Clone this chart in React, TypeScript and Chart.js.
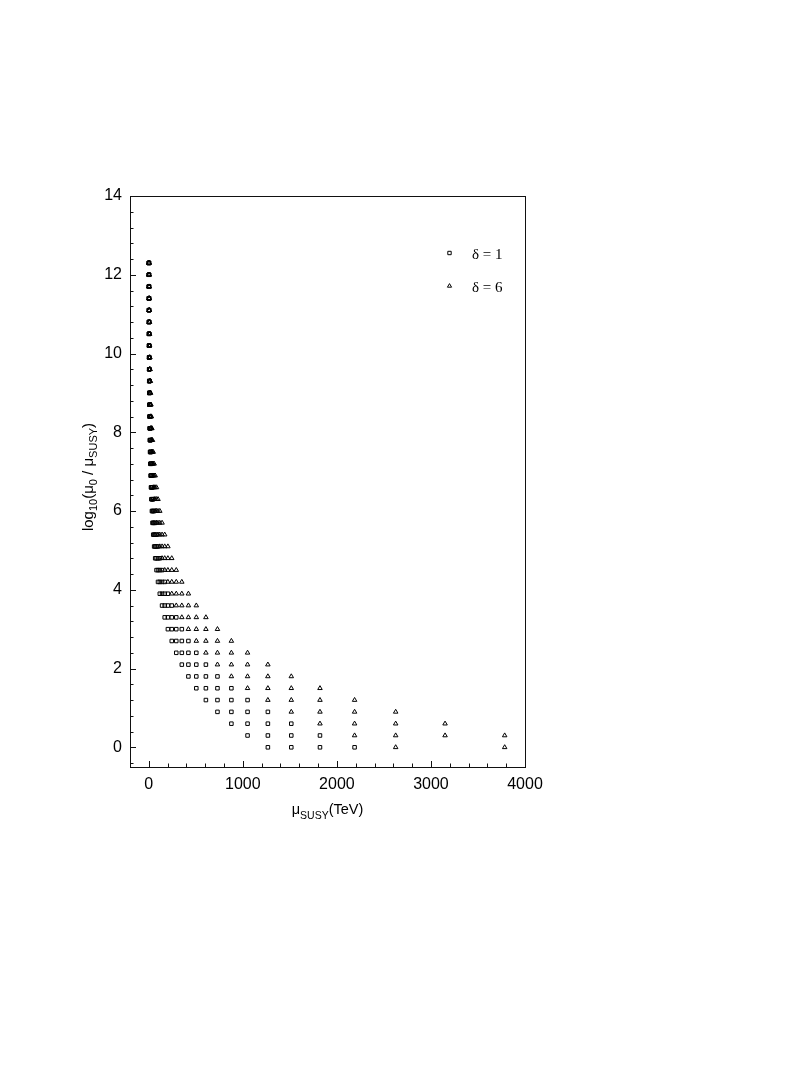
import React, { useEffect, useRef } from "react";
import { Chart, registerables } from "chart.js";

Chart.register(...registerables);

// log10(mu0 / muSUSY) levels (rows of the grid)
const logLevels = [
  0, 0.3, 0.6, 0.9, 1.2, 1.5, 1.8, 2.1, 2.4, 2.7, 3.0, 3.3, 3.6, 3.9, 4.2, 4.5,
  4.8, 5.1, 5.4, 5.7, 6.0, 6.3, 6.6, 6.9, 7.2, 7.5, 7.8, 8.1, 8.4, 8.7, 9.0,
  9.3, 9.6, 9.9, 10.2, 10.5, 10.8, 11.1, 11.4, 11.7, 12.0, 12.3,
];

// muSUSY (TeV) values of delta = 1 points, one list per level
const muSusyDelta1 = [
  [2188, 1820, 1515, 1266],
  [1820, 1515, 1266, 1050],
  [1515, 1266, 1050, 878],
  [1266, 1050, 878, 730],
  [1050, 878, 730, 607],
  [878, 730, 607, 505],
  [730, 607, 505, 421],
  [607, 505, 421, 351],
  [505, 421, 351, 292],
  [421, 351, 292, 244],
  [351, 292, 244, 203],
  [292, 244, 203, 169],
  [244, 203, 169, 141],
  [203, 169, 141, 117],
  [169, 141, 117, 98],
  [141, 117, 98, 82],
  [117, 98, 82, 68],
  [98, 82, 68, 57],
  [82, 68, 57, 47],
  [68, 57, 47, 39],
  [57, 47, 39, 33],
  [47, 39, 33, 27],
  [39, 33, 27, 23],
  [33, 27, 23, 19],
  [27, 23, 19, 16],
  [23, 19, 16, 13],
  [19, 16, 13, 11],
  [16, 13, 11, 9],
  [13, 11, 9, 7.6],
  [11, 9, 7.6, 6.4],
  [9, 7.6, 6.4, 5.3],
  [7.6, 6.4, 5.3, 4.4],
  [6.4, 5.3, 4.4, 3.7],
  [5.3, 4.4, 3.7, 3.1],
  [4.4, 3.7, 3.1, 2.6],
  [3.7, 3.1, 2.6, 2.1],
  [3.1, 2.6, 2.1, 1.8],
  [2.6, 2.1, 1.8, 1.5],
  [2.1, 1.8, 1.5, 1.2],
  [1.8, 1.5, 1.2, 1.0],
  [1.5, 1.2, 1.0, 0.9],
  [1.2, 1.0, 0.9, 0.7],
];

// muSUSY (TeV) values of delta = 6 points, one list per level
const muSusyDelta6 = [
  [3784, 2625],
  [3784, 3150, 2625, 2188],
  [3150, 2625, 2188, 1820],
  [2625, 2188, 1820, 1515],
  [2188, 1820, 1515, 1266],
  [1820, 1515, 1266, 1050],
  [1515, 1266, 1050, 878],
  [1266, 1050, 878, 730],
  [1050, 878, 730, 607],
  [878, 730, 607, 505],
  [730, 607, 505, 421],
  [607, 505, 421, 351],
  [505, 421, 351, 292],
  [421, 351, 292, 244],
  [351, 292, 244, 203],
  [292, 244, 203, 169],
  [244, 203, 169, 141],
  [203, 169, 141, 117],
  [169, 141, 117, 98],
  [141, 117, 98, 82],
  [117, 98, 82, 68],
  [98, 82, 68, 57],
  [82, 68, 57, 47],
  [68, 57, 47, 39],
  [57, 47, 39, 33],
  [47, 39, 33, 27],
  [39, 33, 27, 23],
  [33, 27, 23, 19],
  [27, 23, 19, 16],
  [23, 19, 16, 13],
  [19, 16, 13, 11],
  [16, 13, 11, 9],
  [13, 11, 9, 7.6],
  [11, 9, 7.6, 6.4],
  [9, 7.6, 6.4, 5.3],
  [7.6, 6.4, 5.3, 4.4],
  [6.4, 5.3, 4.4, 3.7],
  [5.3, 4.4, 3.7, 3.1],
  [4.4, 3.7, 3.1, 2.6],
  [3.7, 3.1, 2.6, 2.1],
  [3.1, 2.6, 2.1, 1.8],
  [2.6, 2.1, 1.8, 1.5],
];

const seriesLabels = ["\u03b4 = 1", "\u03b4 = 6"];
const xTickValues = [0, 1000, 2000, 3000, 4000];
const yTickValues = [0, 2, 4, 6, 8, 10, 12, 14];
const xMinorStep = 200;
const yMinorStep = 0.4;
const xRange = [-200, 4000];
const yRange = [-0.5, 14];

const SANS = '"Liberation Sans", Arial, Helvetica, sans-serif';
const SERIF = '"Liberation Serif", "Times New Roman", serif';

type Seg = { t: string; sub?: boolean };

function drawRich(ctx: CanvasRenderingContext2D, segs: Seg[], cx: number, baseY: number, main: number, sub: number, subOff: number) {
  let total = 0;
  const widths = segs.map((s) => {
    ctx.font = `${s.sub ? sub : main}px ${SANS}`;
    const w = ctx.measureText(s.t).width;
    total += w;
    return w;
  });
  let x = cx - total / 2;
  ctx.textAlign = "left";
  ctx.textBaseline = "alphabetic";
  segs.forEach((s, i) => {
    ctx.font = `${s.sub ? sub : main}px ${SANS}`;
    ctx.fillText(s.t, x, baseY + (s.sub ? subOff : 0));
    x += widths[i];
  });
}

const decorPlugin = {
  id: "decor",
  afterDraw(chart: any) {
    const ctx: CanvasRenderingContext2D = chart.ctx;
    const { left, right, top, bottom } = chart.chartArea;
    const xs = chart.scales.x;
    const ys = chart.scales.y;
    ctx.save();
    ctx.strokeStyle = "#111";
    ctx.lineWidth = 1;
    // frame
    ctx.strokeRect(Math.round(left) + 0.5, Math.round(top) + 0.5, Math.round(right - left), Math.round(bottom - top));
    // x ticks (inward)
    ctx.beginPath();
    for (let v = xRange[0]; v <= xRange[1] + 1e-6; v += xMinorStep) {
      const px = Math.round(xs.getPixelForValue(v)) + 0.5;
      const major = xTickValues.includes(Math.round(v));
      ctx.moveTo(px, bottom);
      ctx.lineTo(px, bottom - (major ? 6 : 3.5));
    }
    // y ticks (inward)
    for (let i = 0; ; i++) {
      const v = -0.4 + i * yMinorStep;
      if (v > yRange[1] + 1e-6) break;
      const py = Math.round(ys.getPixelForValue(v)) + 0.5;
      const major = yTickValues.some((t) => Math.abs(t - v) < 1e-6);
      ctx.moveTo(left, py);
      ctx.lineTo(left + (major ? 6 : 3.5), py);
    }
    ctx.stroke();

    // axis titles
    ctx.fillStyle = "#000";
    drawRich(ctx, [{ t: "\u03bc" }, { t: "SUSY", sub: true }, { t: "(TeV)" }], (left + right) / 2, 814, 14.5, 10.5, 5);
    ctx.save();
    ctx.translate(93, 477);
    ctx.rotate(-Math.PI / 2);
    drawRich(
      ctx,
      [
        { t: "log" },
        { t: "10", sub: true },
        { t: "(\u03bc" },
        { t: "0", sub: true },
        { t: " / \u03bc" },
        { t: "SUSY", sub: true },
        { t: ")" },
      ],
      0,
      0,
      15,
      11,
      4
    );
    ctx.restore();

    // legend
    const lx = 449.5;
    const rows = [253, 286];
    ctx.strokeStyle = "#000";
    ctx.beginPath();
    ctx.rect(lx - 1.7, rows[0] - 1.7, 3.4, 3.4);
    ctx.stroke();
    ctx.beginPath();
    const r = 2.4;
    ctx.moveTo(lx, rows[1] - r);
    ctx.lineTo(lx + r * 0.866, rows[1] + r * 0.5);
    ctx.lineTo(lx - r * 0.866, rows[1] + r * 0.5);
    ctx.closePath();
    ctx.stroke();
    ctx.font = `15px ${SERIF}`;
    ctx.textAlign = "left";
    ctx.textBaseline = "alphabetic";
    ctx.fillText(seriesLabels[0], 472, rows[0] + 5.5);
    ctx.fillText(seriesLabels[1], 472, rows[1] + 5.5);
    ctx.restore();
  },
};

export default function App() {
  const ref = useRef<HTMLCanvasElement | null>(null);
  useEffect(() => {
    if (!ref.current) return;
    const toPoints = (rows: number[][]) =>
      rows.flatMap((row, i) => row.map((x) => ({ x, y: logLevels[i] })));
    const tickFont = { family: SANS, size: 16 };
    const chart = new Chart(ref.current, {
      type: "scatter",
      data: {
        datasets: [
          {
            label: seriesLabels[0],
            data: toPoints(muSusyDelta1),
            pointStyle: "rect",
            pointRadius: 2.5,
            pointBorderWidth: 1,
            borderColor: "#000",
            backgroundColor: "rgba(0,0,0,0)",
            pointBackgroundColor: "rgba(0,0,0,0)",
          },
          {
            label: seriesLabels[1],
            data: toPoints(muSusyDelta6),
            pointStyle: "triangle",
            pointRadius: 2.6,
            pointBorderWidth: 1,
            borderColor: "#000",
            backgroundColor: "rgba(0,0,0,0)",
            pointBackgroundColor: "rgba(0,0,0,0)",
          },
        ],
      },
      options: {
        responsive: false,
        animation: false,
        devicePixelRatio: 1,
        layout: { padding: { left: 0, top: 196, right: 284, bottom: 0 } },
        plugins: { legend: { display: false }, tooltip: { enabled: false } },
        scales: {
          x: {
            type: "linear",
            min: xRange[0],
            max: xRange[1],
            grid: { display: false, drawTicks: false },
            border: { display: false },
            ticks: {
              font: tickFont,
              color: "#000",
              padding: 8,
              maxRotation: 0,
              callback: (v: any) => String(v),
            },
            afterBuildTicks: (s: any) => {
              s.ticks = xTickValues.map((v) => ({ value: v }));
            },
            afterFit: (s: any) => {
              s.height = 1066 - 767;
            },
          },
          y: {
            type: "linear",
            min: yRange[0],
            max: yRange[1],
            grid: { display: false, drawTicks: false },
            border: { display: false },
            ticks: {
              font: tickFont,
              color: "#000",
              padding: 8,
              callback: (v: any) => String(v),
            },
            afterBuildTicks: (s: any) => {
              s.ticks = yTickValues.map((v) => ({ value: v }));
            },
            afterFit: (s: any) => {
              s.width = 130;
            },
          },
        },
      } as any,
      plugins: [decorPlugin],
    });
    return () => chart.destroy();
  }, []);
  return (
    <div style={{ position: "absolute", left: 0, top: 0, width: 809, height: 1066, background: "#fff" }}>
      <canvas ref={ref} width={809} height={1066} style={{ display: "block", width: 809, height: 1066 }} />
    </div>
  );
}
